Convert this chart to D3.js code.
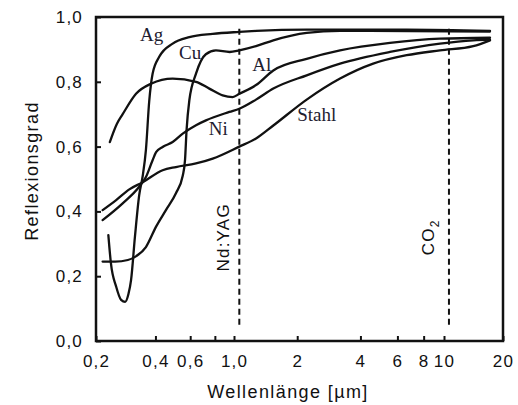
<!DOCTYPE html>
<html>
<head>
<meta charset="utf-8">
<script src="https://cdn.jsdelivr.net/npm/d3@7/dist/d3.min.js"></script>
<style>
    body { margin: 0; background: #fff; }
    .axis text { font-family: "Liberation Sans", Arial, sans-serif; font-size: 17px; letter-spacing: 1.2px; fill: #111; }
    .axis line { stroke: #111; stroke-width: 2; }
    .title { font-family: "Liberation Sans", Arial, sans-serif; font-size: 18px; letter-spacing: 1.4px; fill: #111; }
    .laser { font-family: "Liberation Sans", Arial, sans-serif; font-size: 17px; letter-spacing: 1.2px; fill: #111; }
    .metal { font-family: "Liberation Serif", "Times New Roman", serif; font-size: 19px; fill: #1d2030; }
</style>
</head>
<body>
<script>
//reflectance curves as [wavelength in µm, reflectance]
var agData = [[0.231,0.327],[0.238,0.24],[0.253,0.168],[0.268,0.127],[0.281,0.121],[0.292,0.145],[0.301,0.188],
    [0.315,0.322],[0.331,0.45],[0.345,0.51],[0.358,0.59],[0.372,0.74],[0.387,0.825],[0.418,0.877],[0.489,0.918],
    [0.594,0.938],[0.78,0.948],[1.06,0.954],[1.273,0.957],[2.219,0.961],[6.644,0.961],[17.17,0.957]];
var cuData = [[0.216,0.245],[0.25,0.245],[0.29,0.25],[0.32,0.262],[0.358,0.29],[0.403,0.353],[0.452,0.404],
    [0.508,0.456],[0.55,0.51],[0.565,0.56],[0.575,0.65],[0.594,0.743],[0.642,0.825],[0.72,0.885],[0.81,0.897],
    [0.95,0.892],[1.06,0.897],[1.273,0.91],[1.539,0.928],[2.219,0.951],[3.2,0.957],[17.17,0.955]];
var alData = [[0.235,0.614],[0.255,0.67],[0.273,0.70],[0.319,0.763],[0.38,0.794],[0.489,0.81],[0.642,0.80],
    [0.75,0.779],[0.876,0.758],[0.985,0.753],[1.06,0.763],[1.273,0.79],[1.539,0.835],[2.219,0.871],[3.2,0.897],
    [5.53,0.92],[9.57,0.933],[17.17,0.936]];
var niData = [[0.216,0.373],[0.273,0.425],[0.331,0.476],[0.358,0.506],[0.387,0.558],[0.403,0.583],[0.435,0.599],
    [0.489,0.614],[0.55,0.64],[0.642,0.666],[0.721,0.681],[0.947,0.707],[1.06,0.717],[1.273,0.745],[1.539,0.779],
    [2.219,0.82],[3.2,0.856],[5.53,0.892],[9.57,0.918],[14.1,0.928],[17.17,0.93]];
var stahlData = [[0.216,0.404],[0.253,0.435],[0.295,0.468],[0.345,0.49],[0.435,0.527],[0.508,0.537],[0.642,0.548],
    [0.78,0.563],[1.06,0.6],[1.273,0.625],[1.539,0.665],[2.219,0.745],[3.2,0.81],[4.6,0.856],[6.64,0.882],
    [9.57,0.897],[14.1,0.91],[17.17,0.928]];
var metalNames = ["Ag", "Cu", "Al", "Ni", "Stahl"];

//laser wavelengths
var laserNames = ["Nd:YAG", "CO2"];
var laserWavelengths = [1.06, 10.6];

//tick values and labels
var xTicks = [0.2, 0.4, 0.6, 0.8, 1, 2, 4, 6, 8, 10, 20];
var xTickLabels = ["0,2", "0,4", "0,6", "", "1,0", "2", "4", "6", "8", "10", "20"];
var yTicks = [0, 0.2, 0.4, 0.6, 0.8, 1];
var yTickLabels = ["0,0", "0,2", "0,4", "0,6", "0,8", "1,0"];

//begin script when window loads
window.onload = setChart();

function setChart(){

    var width = 518,
        height = 405;

    var svg = d3.select("body")
        .append("svg")
        .attr("width", width)
        .attr("height", height);

    //the printed axis is only roughly logarithmic, so pin it at 1 and 10
    var x = d3.scaleLog()
        .domain([0.2, 1, 10, 20])
        .range([96, 234, 444, 503]);

    var y = d3.scaleLinear()
        .domain([0, 1])
        .range([341, 17]);

    //axes with inward ticks
    var xAxis = svg.append("g")
        .attr("class", "axis")
        .attr("transform", "translate(0," + y(0) + ")")
        .call(d3.axisBottom(x)
            .tickValues(xTicks)
            .tickFormat(function(d, i){ return xTickLabels[i]; })
            .tickSizeInner(-5)
            .tickSizeOuter(0)
            .tickPadding(14));

    var yAxis = svg.append("g")
        .attr("class", "axis")
        .attr("transform", "translate(" + x(0.2) + ",0)")
        .call(d3.axisLeft(y)
            .tickValues(yTicks)
            .tickFormat(function(d, i){ return yTickLabels[i]; })
            .tickSizeInner(-5)
            .tickSizeOuter(0)
            .tickPadding(13));

    svg.selectAll(".axis .domain").remove();

    //frame round the plot
    svg.append("rect")
        .attr("x", x(0.2))
        .attr("y", y(1))
        .attr("width", x(20) - x(0.2))
        .attr("height", y(0) - y(1))
        .attr("fill", "none")
        .attr("stroke", "#111")
        .attr("stroke-width", 2.5);

    //laser lines
    svg.selectAll(".laserline")
        .data(laserWavelengths)
        .enter()
        .append("line")
        .attr("class", "laserline")
        .attr("x1", function(d){ return x(d); })
        .attr("x2", function(d){ return x(d); })
        .attr("y1", y(0.05))
        .attr("y2", y(0.965))
        .attr("stroke", "#111")
        .attr("stroke-width", 2)
        .attr("stroke-dasharray", "6,4");

    //reflectance curves
    var line = d3.line()
        .x(function(d){ return x(d[0]); })
        .y(function(d){ return y(d[1]); })
        .curve(d3.curveMonotoneX);

    var series = [agData, cuData, alData, niData, stahlData];

    svg.selectAll(".curve")
        .data(series)
        .enter()
        .append("path")
        .attr("class", "curve")
        .attr("d", line)
        .attr("fill", "none")
        .attr("stroke", "#111")
        .attr("stroke-width", 2.3)
        .attr("stroke-linejoin", "round")
        .attr("stroke-linecap", "round");

    //curve names, placed in data units
    var labelAt = [[0.383, 0.925], [0.599, 0.869], [1.355, 0.833], [0.833, 0.637], [2.476, 0.678]];

    svg.selectAll(".metal")
        .data(metalNames)
        .enter()
        .append("text")
        .attr("class", "metal")
        .attr("text-anchor", "middle")
        .attr("x", function(d, i){ return x(labelAt[i][0]); })
        .attr("y", function(d, i){ return y(labelAt[i][1]); })
        .text(function(d){ return d; });

    //laser names, written upwards beside their lines
    var nd = svg.append("text")
        .attr("class", "laser")
        .attr("text-anchor", "middle")
        .attr("transform", "translate(" + (x(laserWavelengths[0]) - 10) + "," + y(0.32) + ") rotate(-90)")
        .text(laserNames[0]);

    var co = svg.append("text")
        .attr("class", "laser")
        .attr("text-anchor", "middle")
        .attr("transform", "translate(" + (x(laserWavelengths[1]) - 15) + "," + y(0.32) + ") rotate(-90)");
    co.append("tspan").text(laserNames[1].slice(0, 2));
    co.append("tspan")
        .attr("font-size", "12px")
        .attr("dy", 5)
        .text(laserNames[1].slice(2));

    //axis titles
    svg.append("text")
        .attr("class", "title")
        .attr("text-anchor", "middle")
        .attr("x", 288)
        .attr("y", 398)
        .text("Wellenlänge [µm]");

    svg.append("text")
        .attr("class", "title")
        .attr("text-anchor", "middle")
        .attr("transform", "translate(38,171) rotate(-90)")
        .text("Reflexionsgrad");
};
</script>
</body>
</html>
